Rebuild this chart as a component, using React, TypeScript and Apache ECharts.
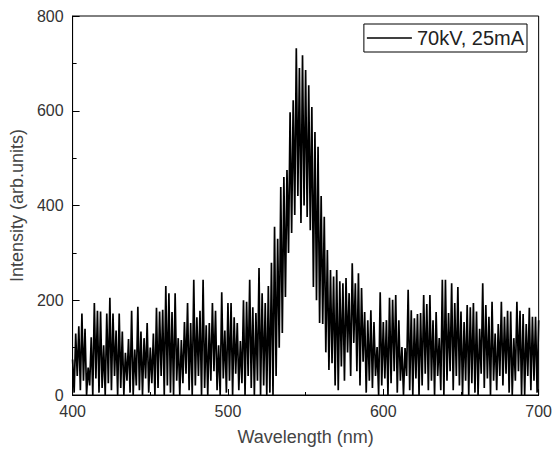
import React, { useEffect, useRef } from "react";
import * as echarts from "echarts";

// Spectrum sampled every 1 nm starting at 400 nm
const WAVELENGTH_START = 400;
const WAVELENGTH_STEP = 1;

const INTENSITY: number[] = [
  // 400-409
  75, 5, 130, 40, 145, 10, 172, 30, 140, 0,
  // 410-419
  58, 20, 122, 0, 194, 35, 178, 5, 176, 15,
  // 420-429
  105, 0, 172, 25, 205, 10, 172, 40, 136, 0,
  // 430-439
  172, 15, 134, 0, 89, 30, 118, 5, 178, 0,
  // 440-449
  96, 20, 186, 10, 134, 0, 120, 35, 152, 5,
  // 450-459
  100, 25, 130, 0, 184, 15, 176, 40, 180, 0,
  // 460-469
  230, 20, 215, 5, 175, 0, 215, 30, 120, 0,
  // 470-479
  116, 25, 154, 45, 194, 10, 152, 0, 243, 20,
  // 480-489
  164, 40, 178, 0, 243, 15, 147, 0, 152, 30,
  // 490-499
  194, 50, 178, 10, 105, 0, 217, 35, 136, 5,
  // 500-509
  194, 30, 194, 0, 164, 45, 152, 10, 114, 25,
  // 510-519
  200, 0, 197, 40, 243, 15, 185, 0, 173, 30,
  // 520-529
  268, 0, 215, 20, 194, 0, 230, 5, 279, 0,
  // 530-539
  355, 40, 330, 100, 439, 131, 460, 207, 475, 300,
  // 540-549
  597, 342, 622, 380, 732, 420, 690, 363, 717, 400,
  // 550-559
  686, 376, 654, 348, 608, 228, 555, 200, 524, 152,
  // 560-569
  420, 150, 376, 90, 306, 53, 264, 67, 250, 20,
  // 570-579
  264, 10, 240, 60, 236, 30, 247, 90, 215, 40,
  // 580-589
  278, 110, 236, 50, 257, 20, 226, 70, 175, 5,
  // 590-599
  158, 30, 179, 15, 154, 40, 101, 0, 217, 20,
  // 600-609
  154, 35, 158, 0, 205, 25, 201, 50, 211, 5,
  // 610-619
  158, 30, 101, 0, 99, 40, 222, 10, 179, 0,
  // 620-629
  162, 35, 171, 0, 173, 20, 211, 45, 192, 10,
  // 630-639
  211, 30, 158, 0, 175, 40, 120, 10, 243, 0,
  // 640-649
  243, 30, 173, 50, 236, 10, 194, 40, 228, 20,
  // 650-659
  176, 0, 154, 30, 190, 0, 185, 25, 194, 5,
  // 660-669
  176, 0, 140, 45, 236, 15, 190, 35, 165, 0,
  // 670-679
  197, 30, 130, 10, 150, 40, 197, 20, 165, 45,
  // 680-689
  178, 5, 176, 0, 120, 30, 197, 50, 178, 0,
  // 690-699
  171, 0, 150, 40, 184, 10, 165, 30, 165, 5,
  // 700
  158,
];

const SERIES_NAME = "70kV, 25mA";
const X_TITLE = "Wavelength (nm)";
const Y_TITLE = "Intensity (arb.units)";

const FONT = "'Liberation Sans', Arial, Helvetica, sans-serif";

export default function App() {
  const ref = useRef<HTMLDivElement>(null);

  useEffect(() => {
    if (!ref.current) return;
    const chart = echarts.init(ref.current, null, { renderer: "svg" });

    const data = INTENSITY.map((v, i) => [WAVELENGTH_START + i * WAVELENGTH_STEP, v]);

    chart.setOption({
      animation: false,
      backgroundColor: "#ffffff",
      textStyle: { fontFamily: FONT },
      grid: {
        left: 69,
        right: 15,
        top: 16,
        bottom: 58,
        show: true,
        borderColor: "#000",
        borderWidth: 1,
        backgroundColor: "transparent",
      },
      legend: {
        show: true,
        top: 24,
        right: 28,
        itemWidth: 45,
        itemHeight: 1.5,
        padding: [4, 3, 4, 3],
        borderColor: "#000",
        borderWidth: 1,
        borderRadius: 0,
        textStyle: { fontSize: 20, color: "#222", fontFamily: FONT },
        data: [{ name: SERIES_NAME, icon: "rect" }],
      },
      xAxis: {
        type: "value",
        min: 400,
        max: 700,
        interval: 100,
        name: X_TITLE,
        nameLocation: "middle",
        nameGap: 33,
        nameTextStyle: { fontSize: 18, color: "#444", fontFamily: FONT },
        axisLine: { show: true, onZero: false, lineStyle: { color: "#000", width: 1 } },
        axisTick: { show: true, inside: true, length: 6, lineStyle: { color: "#000" } },
        minorTick: { show: true, splitNumber: 2, length: 3, lineStyle: { color: "#000" } },
        splitLine: { show: false },
        axisLabel: { fontSize: 16, color: "#333", margin: 8, fontFamily: FONT },
      },
      yAxis: {
        type: "value",
        min: 0,
        max: 800,
        interval: 200,
        name: Y_TITLE,
        nameLocation: "middle",
        nameGap: 45,
        nameTextStyle: { fontSize: 18, color: "#444", fontFamily: FONT },
        axisLine: { show: true, onZero: false, lineStyle: { color: "#000", width: 1 } },
        axisTick: { show: true, inside: true, length: 7, lineStyle: { color: "#000" } },
        minorTick: { show: true, splitNumber: 2, length: 4, lineStyle: { color: "#000" } },
        splitLine: { show: false },
        axisLabel: { fontSize: 16, color: "#333", margin: 9, fontFamily: FONT },
      },
      series: [
        {
          name: SERIES_NAME,
          type: "line",
          data,
          symbol: "none",
          showSymbol: false,
          lineStyle: { color: "#000", width: 1.7, join: "miter", miterLimit: 2 },
          itemStyle: { color: "#000" },
          emphasis: { disabled: true },
        },
      ],
    });

    return () => chart.dispose();
  }, []);

  return (
    <div
      ref={ref}
      style={{
        position: "fixed",
        left: 0,
        top: 0,
        width: 555,
        height: 453,
        background: "#fff",
      }}
    />
  );
}
